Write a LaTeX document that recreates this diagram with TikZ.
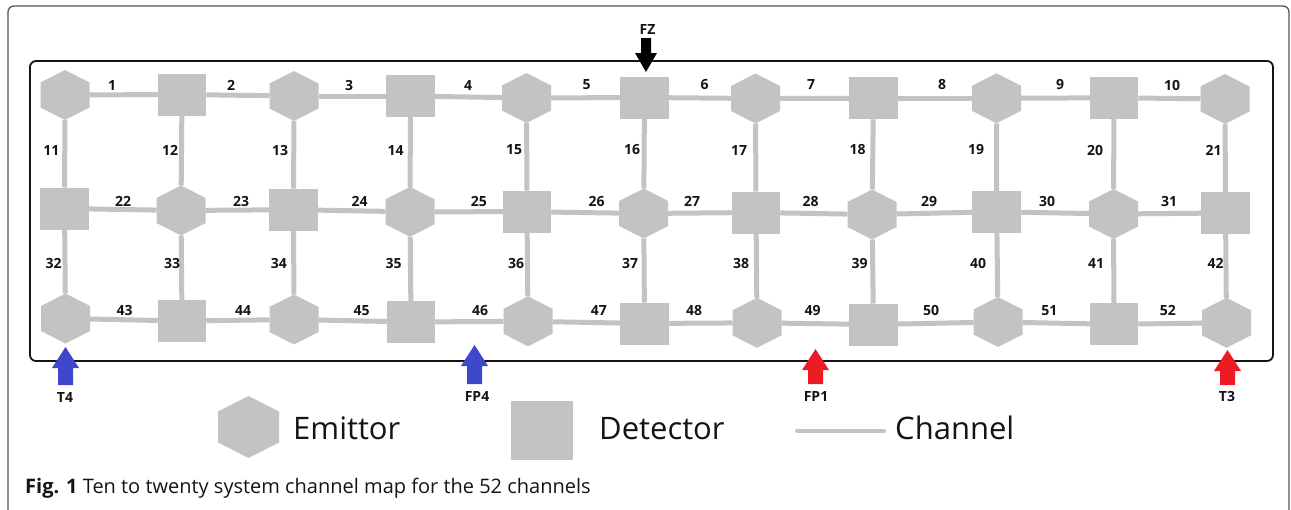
\documentclass[tikz,border=0pt]{standalone}
\usepackage{fontspec}
\setmainfont{Open Sans}
\usetikzlibrary{calc}
\definecolor{shapegray}{RGB}{195,195,195}
\definecolor{arrblue}{RGB}{63,72,204}
\definecolor{arrred}{RGB}{237,28,36}
\definecolor{framegray}{RGB}{85,85,85}
\definecolor{inkblack}{RGB}{20,20,20}
\tikzset{
  hexfill/.style={path picture={\fill[shapegray]
      (path picture bounding box.north)
      -- ($(path picture bounding box.north east)!.5!(path picture bounding box.east)$)
      -- ($(path picture bounding box.south east)!.5!(path picture bounding box.east)$)
      -- (path picture bounding box.south)
      -- ($(path picture bounding box.south west)!.5!(path picture bounding box.west)$)
      -- ($(path picture bounding box.north west)!.5!(path picture bounding box.west)$)
      -- cycle;}},
  emitter/.style={rectangle, inner sep=0pt, outer sep=0pt, minimum width=49pt, minimum height=50pt, hexfill},
  detector/.style={rectangle, inner sep=0pt, outer sep=0pt, minimum width=48.5pt, minimum height=42pt, fill=shapegray},
  bigemitter/.style={emitter, minimum width=61pt, minimum height=62pt},
  bigdetector/.style={detector, minimum width=62pt, minimum height=59pt},
  chan/.style={draw=shapegray, line width=5pt},
  lab/.style={inner sep=0pt, text=inkblack, font=\fontsize{14}{16}\selectfont\bfseries},
  legtext/.style={inner sep=0pt, anchor=base west, text=inkblack, font=\fontsize{31}{34}\selectfont},
  pics/blockarrow/.style args={#1/#2/#3/#4}{code={
      \fill (0,0) -- (#2,#1) -- (#3,#1) -- (#3,#4) -- (-#3,#4) -- (-#3,#1) -- (-#2,#1) -- cycle;}}
}
\begin{document}
\begin{tikzpicture}[x=1pt,y=-1pt]
\useasboundingbox (0,0) rectangle (1291,509);
\clip (0,0) rectangle (1291,509);
% outer figure frame
\draw[framegray, line width=1.3pt, rounded corners=6pt] (8,6) rectangle (1289,560);
% inner frame
\draw[inkblack, line width=1.8pt, rounded corners=6pt] (30,61) rectangle (1273,361);

% row 1
\node[emitter]  (a1)  at (65,95) {};
\node[detector] (a2)  at (182,94.5) {};
\node[emitter]  (a3)  at (294,96) {};
\node[detector] (a4)  at (410.5,96) {};
\node[emitter]  (a5)  at (526.5,98) {};
\node[detector] (a6)  at (644.5,97.5) {};
\node[emitter]  (a7)  at (755.5,98.5) {};
\node[detector] (a8)  at (873.5,98.3) {};
\node[emitter]  (a9)  at (996.5,98.3) {};
\node[detector] (a10) at (1114,97.8) {};
\node[emitter]  (a11) at (1225,99) {};
% row 2
\node[detector] (b1)  at (64.5,208.5) {};
\node[emitter]  (b2)  at (181,210.5) {};
\node[detector] (b3)  at (293.5,209.7) {};
\node[emitter]  (b4)  at (410,211.8) {};
\node[detector] (b5)  at (527,211.7) {};
\node[emitter]  (b6)  at (643.7,213.5) {};
\node[detector] (b7)  at (756,212.5) {};
\node[emitter]  (b8)  at (872,214.5) {};
\node[detector] (b9)  at (996.7,211.8) {};
\node[emitter]  (b10) at (1113.5,214) {};
\node[detector] (b11) at (1225.5,213) {};
% row 3
\node[emitter]  (c1)  at (65.5,318.5) {};
\node[detector] (c2)  at (182,321) {};
\node[emitter]  (c3)  at (294,319.5) {};
\node[detector] (c4)  at (411,322) {};
\node[emitter]  (c5)  at (528,321.3) {};
\node[detector] (c6)  at (644.5,323.5) {};
\node[emitter]  (c7)  at (757,322.8) {};
\node[detector] (c8)  at (873.5,324.5) {};
\node[emitter]  (c9)  at (998,322) {};
\node[detector] (c10) at (1114,324.3) {};
\node[emitter]  (c11) at (1226.5,322.8) {};

% channels
\foreach \i [evaluate=\i as \j using int(\i+1)] in {1,...,10} {
  \draw[chan] (a\i) -- (a\j);
  \draw[chan] (b\i) -- (b\j);
  \draw[chan] (c\i) -- (c\j);
}
\foreach \i in {1,...,11} {
  \draw[chan] (a\i) -- (b\i);
  \draw[chan] (b\i) -- (c\i);
}

% channel labels
\foreach \n/\x in {1/112,2/231,3/349,4/468,5/586.5,6/704.5,7/811,8/942,9/1060,10/1172}
  \node[lab] (l\n) at (\x,85) {\n};
\foreach \n/\x in {11/51.4,12/170,13/280,14/395.5,15/514,16/632,17/739,18/857.5,19/976,20/1095,21/1213.5}
  \node[lab] (l\n) at (\x,150) {\n};
\foreach \n/\x in {22/123,23/241,24/359.6,25/478.8,26/596.7,27/692,28/810.6,29/929,30/1047,31/1169}
  \node[lab] (l\n) at (\x,201) {\n};
\foreach \n/\x in {32/53.5,33/172,34/278.8,35/393.5,36/516,37/630,38/741,39/859.6,40/978,41/1096,42/1215.5}
  \node[lab] (l\n) at (\x,263) {\n};
\foreach \n/\x in {43/124.5,44/243,45/361.6,46/480,47/598.8,48/694,49/812.7,50/931,51/1049.4,52/1167.8}
  \node[lab] (l\n) at (\x,310.7) {\n};

% electrode arrows
\pic[fill=black, rotate=180] at (646,72) {blockarrow={19/11/5/34}};
\node[lab] (fz) at (647.5,29.5) {FZ};
\pic[fill=arrblue] at (65.5,347) {blockarrow={21/13.5/7.5/38}};
\node[lab] (t4) at (65,397) {T4};
\pic[fill=arrblue] at (474.5,345) {blockarrow={21/13.5/7.5/39}};
\node[lab] (fp4) at (477,396) {FP4};
\pic[fill=arrred] at (815.5,349) {blockarrow={21/13.5/7.5/35}};
\node[lab] (fp1) at (816,396) {FP1};
\pic[fill=arrred] at (1227.5,350) {blockarrow={21/13.5/7.5/35}};
\node[lab] (t3) at (1227,396) {T3};

% legend
\node[bigemitter] (legE) at (248.5,427) {};
\node[legtext] (legEt) at (293,439) {Emittor};
\node[bigdetector] (legD) at (542,430.5) {};
\node[legtext] (legDt) at (599,439) {Detector};
\coordinate (legC1) at (797,431);
\coordinate (legC2) at (884,431);
\draw[draw=shapegray, line width=4pt, line cap=round] (legC1) -- (legC2);
\node[legtext] (legCt) at (895,439) {Channel};

% caption
\node[anchor=base west, inner sep=0pt, text=inkblack, font=\fontsize{20}{22}\selectfont] (cap) at (25,493)
  {\textbf{Fig. 1} Ten to twenty system channel map for the 52 channels};
\end{tikzpicture}
\end{document}
